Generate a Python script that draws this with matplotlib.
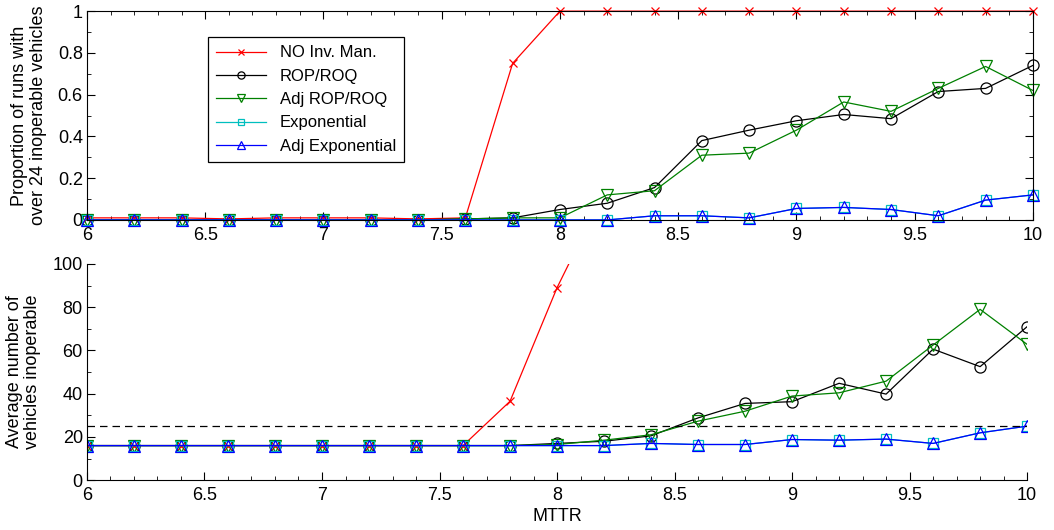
import numpy as np
import matplotlib
matplotlib.use("Agg")
import matplotlib.pyplot as plt
from matplotlib.ticker import MultipleLocator

plt.rcParams['font.family'] = ['Liberation Sans', 'DejaVu Sans']

mttr = [6.0, 6.2, 6.4, 6.6, 6.8, 7.0, 7.2, 7.4, 7.6, 7.8, 8.0,
        8.2, 8.4, 8.6, 8.8, 9.0, 9.2, 9.4, 9.6, 9.8, 10.0]
nan = np.nan

# top panel: proportion of runs with over 24 inoperable vehicles
prop_noinv = [0.01, 0.01, 0.01, 0.005, 0.01, 0.01, 0.01, 0.005, 0.01, 0.75, 1.0,
              1.0, 1.0, 1.0, 1.0, 1.0, 1.0, 1.0, 1.0, 1.0, 1.0]
prop_rop = [0, 0, 0, 0, 0, 0, 0, 0, 0.005, 0.01, 0.05,
            0.08, 0.155, 0.38, 0.43, 0.475, 0.505, 0.485, 0.615, 0.63, 0.74]
prop_adjrop = [0, 0, 0, 0, 0, 0, 0, 0, 0.005, 0.01, 0.01,
               0.12, 0.14, 0.31, 0.32, 0.43, 0.565, 0.52, 0.63, 0.735, 0.62]
prop_exp = [0, 0, 0, 0, 0, 0, 0, 0, 0, 0, 0,
            0, 0.02, 0.02, 0.01, 0.055, 0.06, 0.05, 0.02, 0.095, 0.12]
prop_adjexp = [0, 0, 0, 0, 0, 0, 0, 0, 0, 0, 0,
               0, 0.02, 0.02, 0.01, 0.055, 0.06, 0.05, 0.02, 0.095, 0.12]

# bottom panel: average number of vehicles inoperable
avg_noinv = [16, 16, 16, 16, 16, 16, 16, 16, 16, 36.5, 89,
             133, nan, nan, nan, nan, nan, nan, nan, nan, nan]
avg_rop = [16, 16, 16, 16, 16, 16, 16, 16, 16, 16, 17,
           18, 20.5, 28.8, 35.5, 36.3, 44.8, 39.8, 60.6, 52.5, 71]
avg_adjrop = [16, 16, 16, 16, 16, 16, 16, 16, 16, 16, 16.5,
              18.5, 21, 27.3, 31.9, 38.9, 40.4, 45.8, 62.5, 79, 62.8]
avg_exp = [16, 16, 16, 16, 16, 16, 16, 16, 16, 16, 16,
           16, 17, 16.5, 16.5, 18.8, 18.5, 19, 17, 21.9, 25]
avg_adjexp = [16, 16, 16, 16, 16, 16, 16, 16, 16, 16, 16,
              16, 17, 16.5, 16.5, 18.8, 18.5, 19, 17, 21.9, 25]
threshold = 25

labels = ["NO Inv. Man.", "ROP/ROQ", "Adj ROP/ROQ", "Exponential", "Adj Exponential"]
colors = ["#ff0000", "#000000", "#008000", "#00bfbf", "#0000ff"]
markers = ["x", "o", "v", "s", "^"]
msizes = [6, 8, 9, 6.5, 9]

fig = plt.figure(figsize=(10.54, 5.30), dpi=100)
ax1 = fig.add_axes([0.0825, 0.585, 0.8975, 0.394])
ax2 = fig.add_axes([0.0825, 0.094, 0.892, 0.408])

top = [prop_noinv, prop_rop, prop_adjrop, prop_exp, prop_adjexp]
bot = [avg_noinv, avg_rop, avg_adjrop, avg_exp, avg_adjexp]
for i in range(5):
    ax1.plot(mttr, top[i], color=colors[i], marker=markers[i], ms=msizes[i],
             mfc="none", mec=colors[i], mew=0.9, lw=0.9, label=labels[i], clip_on=False)
    ax2.plot(mttr, bot[i], color=colors[i], marker=markers[i], ms=msizes[i],
             mfc="none", mec=colors[i], mew=0.9, lw=0.9)
ax2.axhline(threshold, color="black", ls=(0, (6, 4)), lw=0.9)

fs = 13
ax1.set_xlim(6, 10)
ax1.set_ylim(0, 1)
ax1.set_yticks([0, 0.2, 0.4, 0.6, 0.8, 1.0])
ax1.set_yticklabels(["0", "0.2", "0.4", "0.6", "0.8", "1"])
ax1.set_ylabel("Proportion of runs with\nover 24 inoperable vehicles", fontsize=13,
               labelpad=8, linespacing=1.1)
ax2.set_xlim(6, 10)
ax2.set_ylim(0, 100)
ax2.set_xlabel("MTTR", fontsize=fs, labelpad=3)
ax2.set_ylabel("Average number of\nvehicles inoperable", fontsize=13, labelpad=8,
               linespacing=1.1)
ax2.spines["top"].set_visible(False)
ax2.spines["right"].set_visible(False)

for ax, ymin in ((ax1, 0.1), (ax2, 10)):
    ax.xaxis.set_minor_locator(MultipleLocator(0.1))
    ax.yaxis.set_minor_locator(MultipleLocator(ymin))
    ax.set_xticks([6, 6.5, 7, 7.5, 8, 8.5, 9, 9.5, 10])
    ax.set_xticklabels(["6", "6.5", "7", "7.5", "8", "8.5", "9", "9.5", "10"])
    ax.tick_params(labelsize=fs)
    ax.tick_params(axis="x", pad=5)
    ax.tick_params(axis="y", pad=3)
ax1.tick_params(which="both", direction="in", top=True, right=True)
ax1.tick_params(which="major", length=6)
ax1.tick_params(which="minor", length=3)
ax2.tick_params(which="both", direction="in")
ax2.tick_params(which="major", length=6)
ax2.tick_params(which="minor", length=3)

leg = ax1.legend(loc="upper left", bbox_to_anchor=(0.128, 0.876), fontsize=12,
                 fancybox=False, edgecolor="black", framealpha=1,
                 handlelength=3.0, markerscale=0.65, borderpad=0.5, labelspacing=0.5,
                 borderaxespad=0)
leg.get_frame().set_linewidth(0.9)

fig.savefig("out.png", dpi=100)
